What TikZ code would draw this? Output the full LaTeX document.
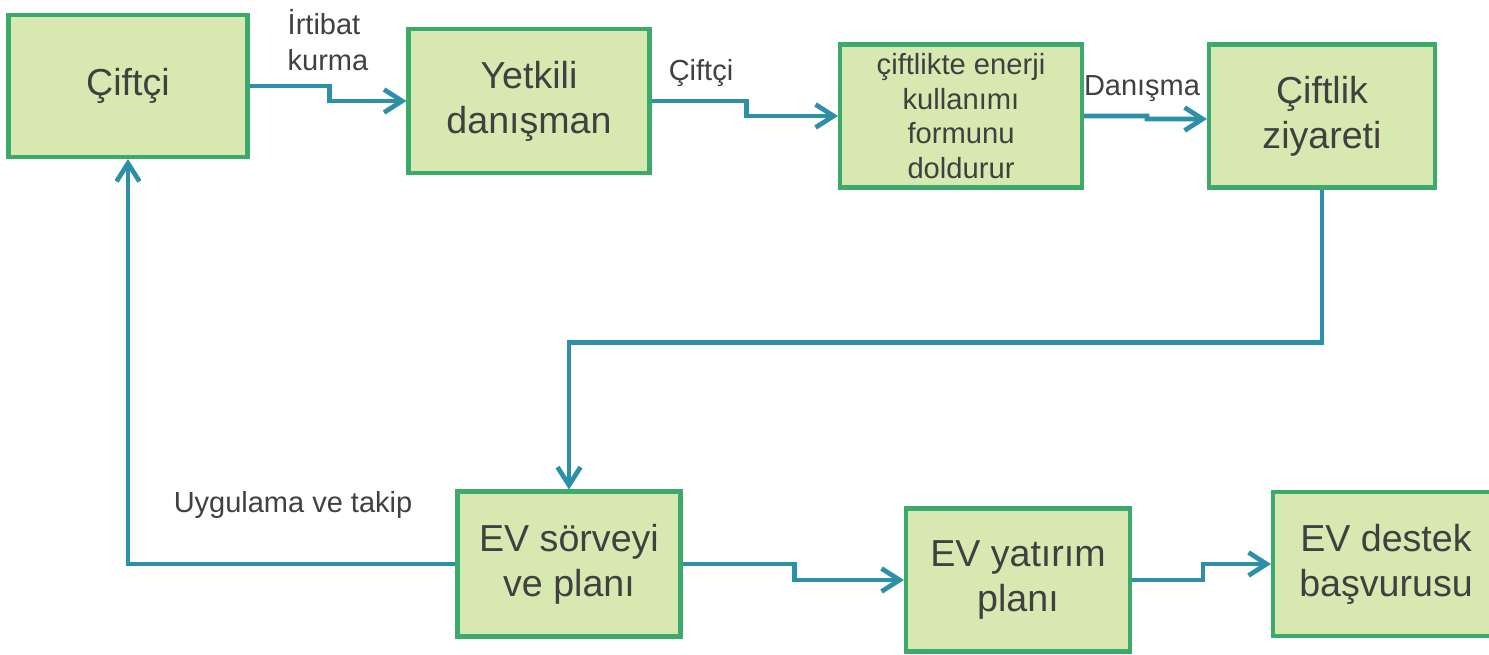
\documentclass[tikz,border=0pt]{standalone}
\usepackage{fontspec}
\setmainfont{Liberation Sans}
\usetikzlibrary{arrows.meta}

\definecolor{boxfill}{HTML}{D7E9B0}
\definecolor{boxline}{HTML}{3BAA6A}
\definecolor{flowline}{HTML}{2E8FA8}
\definecolor{txt}{HTML}{404040}

\begin{document}
\begin{tikzpicture}[x=0.02cm,y=-0.02cm,
  box/.style={draw=boxline, fill=boxfill, line width=2.3pt, text=txt,
    align=center, inner sep=0pt, font=\fontsize{21.4}{25.6}\selectfont},
  smallbox/.style={box, font=\fontsize{16.6}{19.6}\selectfont},
  lbl/.style={text=txt, inner sep=0pt, font=\fontsize{16.5}{20}\selectfont},
  flow/.style={draw=flowline, line width=2.7pt,
    -{Straight Barb[length=3.6mm,width=4.6mm,line width=2.7pt]}}]

\useasboundingbox (0,0) rectangle (1489,655);

% top row
\node[box, minimum width=239*0.02cm, minimum height=142*0.02cm] (ciftci) at (128,86) {Çiftçi};
\node[box, minimum width=241*0.02cm, minimum height=144*0.02cm] (yetkili) at (529,101) {Yetkili\\danışman};
\node[smallbox, minimum width=242*0.02cm, minimum height=143*0.02cm] (form) at (961,116) {çiftlikte enerji\\kullanımı\\formunu\\doldurur};
\node[box, minimum width=226*0.02cm, minimum height=143*0.02cm] (ziyaret) at (1322,116) {Çiftlik\\ziyareti};

% bottom row
\node[box, minimum width=223*0.02cm, minimum height=145*0.02cm] (sorvey) at (569,564) {EV sörveyi\\ve planı};
\node[box, minimum width=224*0.02cm, minimum height=143*0.02cm] (yatirim) at (1018,580) {EV yatırım\\planı};
\node[box, minimum width=226*0.02cm, minimum height=144*0.02cm] (destek) at (1386,564) {EV destek\\başvurusu};

% labels
\node[lbl, align=left] (irtibat) at (328,40) {İrtibat\\kurma};
\node[lbl] (ciftcilbl) at (701,73) {Çiftçi};
\node[lbl] (danisma) at (1142,89) {Danışma};
\node[lbl] (uygulama) at (293,505) {Uygulama ve takip};

% connectors
\draw[flow] (ciftci.east) -- ++(80,0) |- (yetkili.west);
\draw[flow] (yetkili.east) -- ++(95,0) |- (form.west);
\draw[flow] (form.east) -- ++(63,0) -- ++(0,3) -- ([yshift=-0.06cm]ziyaret.west);
\draw[flow] (ziyaret.south) -- ++(0,153) -| (sorvey.north);
\draw[flow] (sorvey.west) -| (ciftci.south);
\draw[flow] (sorvey.east) -- ++(112,0) |- (yatirim.west);
\draw[flow] (yatirim.east) -- ++(71,0) |- (destek.west);

\end{tikzpicture}
\end{document}
